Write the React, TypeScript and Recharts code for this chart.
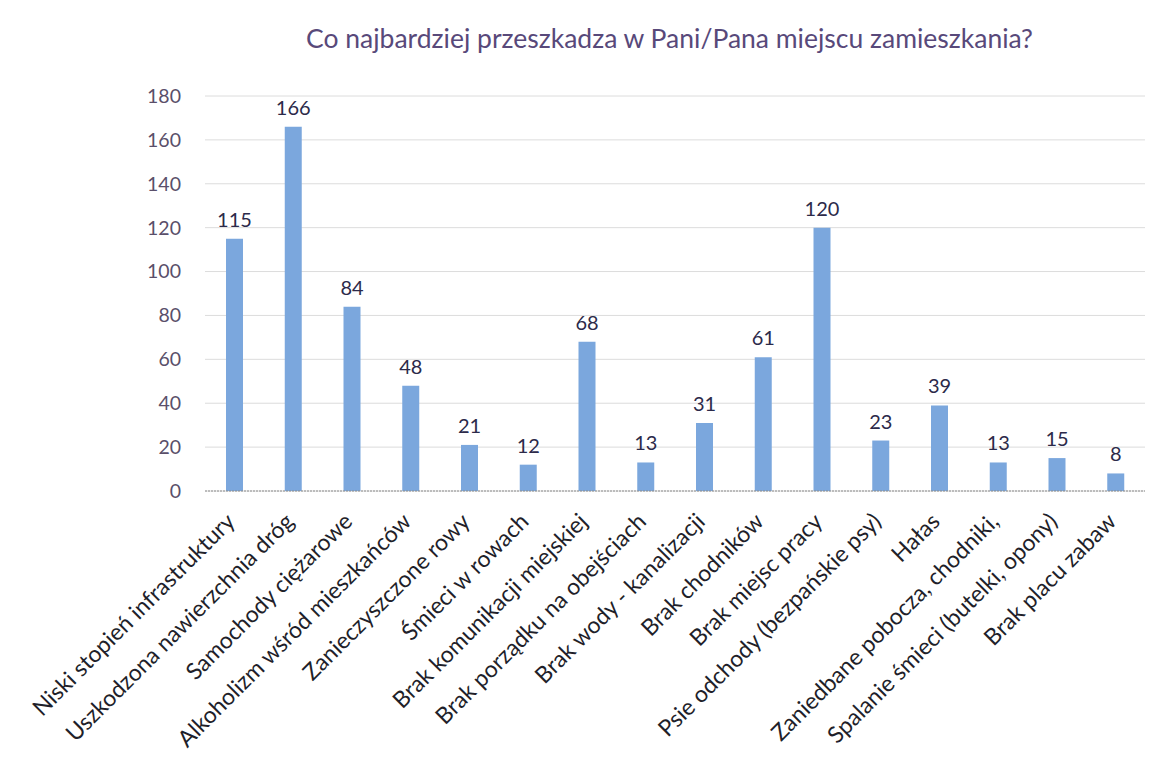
import { BarChart, Bar, XAxis, YAxis, CartesianGrid, LabelList, ReferenceLine } from 'recharts';

const categories = [
  'Niski stopień infrastruktury',
  'Uszkodzona nawierzchnia dróg',
  'Samochody ciężarowe',
  'Alkoholizm wśród mieszkańców',
  'Zanieczyszczone rowy',
  'Śmieci w rowach',
  'Brak komunikacji miejskiej',
  'Brak porządku na obejściach',
  'Brak wody - kanalizacji',
  'Brak chodników',
  'Brak miejsc pracy',
  'Psie odchody (bezpańskie psy)',
  'Hałas',
  'Zaniedbane pobocza, chodniki,',
  'Spalanie śmieci (butelki, opony)',
  'Brak placu zabaw',
];

const counts = [115, 166, 84, 48, 21, 12, 68, 13, 31, 61, 120, 23, 39, 13, 15, 8];

const yTicks = [0, 20, 40, 60, 80, 100, 120, 140, 160, 180];

const title = 'Co najbardziej przeszkadza w Pani/Pana miejscu zamieszkania?';

const data = categories.map((name, i) => ({ name, value: counts[i] }));

const FONT = 'Lato, "Open Sans", sans-serif';

function SlantedTick({ x, y, payload }: any) {
  return (
    <g transform={`translate(${x + 2},${y + 24})`}>
      <text
        transform="rotate(-45)"
        textAnchor="end"
        fontSize={23}
        fontFamily={FONT}
        fill="#1f1f2a"
      >
        {payload.value}
      </text>
    </g>
  );
}

export default function App() {
  return (
    <div style={{ position: 'absolute', left: 0, top: 0, width: 1163, height: 782, background: '#fff' }}>
      <div
        style={{
          position: 'absolute',
          left: 0,
          right: 0,
          top: 22,
          paddingLeft: 176,
          textAlign: 'center',
          fontFamily: FONT,
          fontSize: 26.5,
          color: '#58497a',
        }}
      >
        {title}
      </div>
      <BarChart
        width={1163}
        height={782}
        data={data}
        margin={{ top: 96, right: 18, bottom: 0, left: 0 }}
        barSize={17}
      >
        <CartesianGrid vertical={false} stroke="#dcdcdc" />
        <XAxis
          dataKey="name"
          interval={0}
          height={291}
          tick={<SlantedTick />}
          tickLine={false}
          axisLine={false}
        />
        <YAxis
          width={205}
          domain={[0, 180]}
          ticks={yTicks}
          tickLine={false}
          axisLine={false}
          tickMargin={18}
          tick={{ fontSize: 19.5, fontFamily: FONT, fill: '#5a4f6a' }}
        />
        <ReferenceLine y={0} stroke="#8c8c8c" strokeDasharray="2 1" />
        <Bar dataKey="value" fill="#7ba7dd" isAnimationActive={false}>
          <LabelList
            dataKey="value"
            position="top"
            offset={12}
            fontSize={20}
            fontFamily={FONT}
            fill="#2c2a4a"
          />
        </Bar>
      </BarChart>
    </div>
  );
}
